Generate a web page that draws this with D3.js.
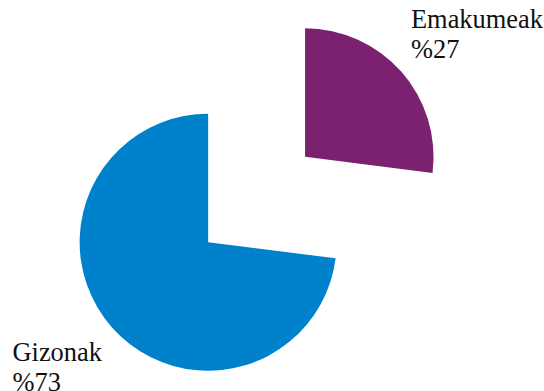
<!DOCTYPE html>
<html>
<head>
<meta charset="utf-8">
<script src="https://cdn.jsdelivr.net/npm/d3@7"></script>
</head>
<body style="margin:0">
<script>
// gender split
var categories = ["Emakumeak", "Gizonak"];
var values = [27, 73];
var colors = ["#7b216f", "#0081cc"];

var width = 544, height = 391;
var cx = 256.6, cy = 199.5, radius = 128.5, explode = 64.6;
var serif = "Liberation Serif, Times New Roman, Tinos, serif";

var svg = d3.select("body").append("svg")
    .attr("width", width)
    .attr("height", height)
    .attr("font-family", serif);

var pie = d3.pie().sort(null).value(function(d) { return d; });
var arc = d3.arc().innerRadius(0).outerRadius(radius);
var arcs = pie(values);

var g = svg.append("g").attr("transform", "translate(" + cx + "," + cy + ")");

g.selectAll(".slice")
    .data(arcs)
    .enter().append("path")
        .attr("class", "slice")
        .attr("d", arc)
        .attr("transform", function(d) {
            var a = (d.startAngle + d.endAngle) / 2;
            return "translate(" + (Math.sin(a) * explode) + "," + (-Math.cos(a) * explode) + ")";
        })
        .attr("fill", function(d, i) { return colors[i]; });

// labels: name on first line, percent below
var labelPos = [[411, 28], [12.5, 361]];
arcs.forEach(function(d, i) {
    svg.append("text")
        .attr("x", labelPos[i][0])
        .attr("y", labelPos[i][1])
        .attr("font-family", serif)
        .attr("font-size", 26.4)
        .attr("fill", "#111")
        .text(categories[i]);
    svg.append("text")
        .attr("x", labelPos[i][0])
        .attr("y", labelPos[i][1] + 30)
        .attr("font-family", serif)
        .attr("font-size", 26.4)
        .attr("fill", "#111")
        .text("%" + d.value);
});
</script>
</body>
</html>
